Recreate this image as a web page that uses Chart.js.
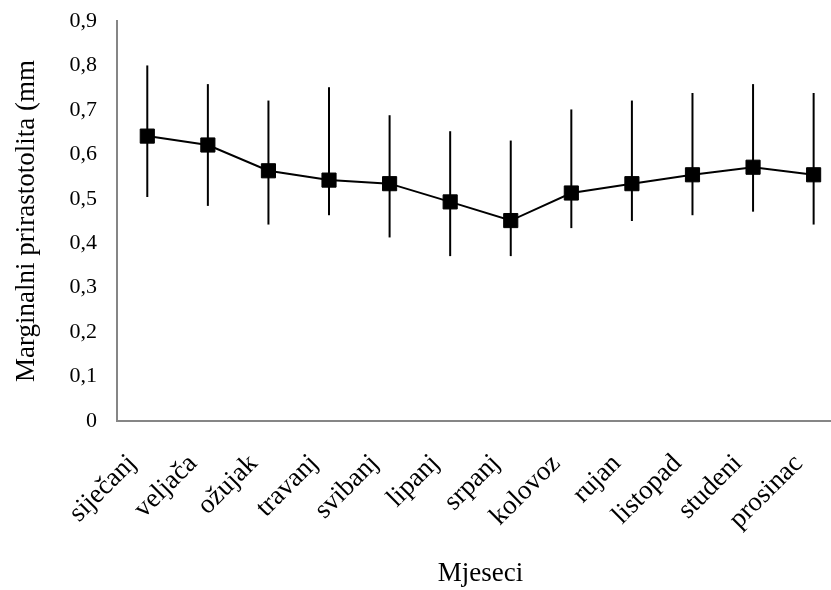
<!DOCTYPE html>
<html><head><meta charset="utf-8">
<script src="https://cdn.jsdelivr.net/npm/chart.js@4"></script>
<style>
html,body{margin:0;padding:0;overflow:hidden;background:#fff}
#wrap{width:856px;height:590px;position:relative}
</style>
</head><body>
<div id="wrap"><canvas id="c"></canvas></div>
<script>
const months = ['siječanj','veljača','ožujak','travanj','svibanj','lipanj','srpanj','kolovoz','rujan','listopad','studeni','prosinac'];
const means = [0.641,0.621,0.563,0.542,0.534,0.493,0.451,0.513,0.534,0.554,0.571,0.554];
const upper = [0.800,0.758,0.721,0.751,0.688,0.652,0.631,0.701,0.721,0.738,0.758,0.738];
const lower = [0.504,0.484,0.442,0.463,0.413,0.371,0.371,0.434,0.450,0.463,0.471,0.442];
const yMin = 0, yMax = 0.9, yStep = 0.1;
const yTitle = 'Marginalni prirastotolita (mm';
const xTitle = 'Mjeseci';

const errorBars = {
  id: 'errorBars',
  afterDatasetsDraw(chart) {
    const ctx = chart.ctx, xs = chart.scales.x, ys = chart.scales.y;
    ctx.save();
    ctx.strokeStyle = '#000';
    ctx.lineWidth = 2;
    for (let i = 0; i < months.length; i++) {
      const x = xs.getPixelForValue(i);
      ctx.beginPath();
      ctx.moveTo(x, ys.getPixelForValue(upper[i]));
      ctx.lineTo(x, ys.getPixelForValue(lower[i]));
      ctx.stroke();
    }
    ctx.restore();
  }
};

new Chart(document.getElementById('c'), {
  type: 'line',
  data: {
    labels: months,
    datasets: [{
      data: means,
      borderColor: '#000',
      borderWidth: 2,
      backgroundColor: '#000',
      pointStyle: 'rect',
      pointRadius: 10,
      pointBorderWidth: 1,
      pointBackgroundColor: '#000',
      pointBorderColor: '#000',
      tension: 0,
      fill: false
    }]
  },
  plugins: [errorBars],
  options: {
    responsive: true,
    maintainAspectRatio: false,
    animation: false,
    layout: { padding: { top: 21, right: 1, bottom: 0, left: 0 } },
    plugins: { legend: { display: false }, tooltip: { enabled: false } },
    scales: {
      x: {
        offset: true,
        grid: { display: false },
        border: { display: true, color: '#868686', width: 2 },
        ticks: {
          autoSkip: false, maxRotation: 45, minRotation: 45,
          padding: 19, labelOffset: -15, color: '#000',
          font: { family: '"Liberation Serif", "Times New Roman", serif', size: 27 }
        },
        title: {
          display: true, text: xTitle, color: '#000',
          font: { family: '"Liberation Serif", "Times New Roman", serif', size: 27 },
          padding: { top: 0, bottom: 0 }
        },
        afterFit(s) { s.height = 169; }
      },
      y: {
        min: yMin, max: yMax,
        grid: { display: false },
        border: { display: true, color: '#868686', width: 2 },
        ticks: {
          stepSize: yStep, padding: 12, color: '#000',
          font: { family: '"Liberation Serif", "Times New Roman", serif', size: 22 },
          callback: v => (Math.round(v * 10) / 10).toString().replace('.', ',')
        },
        title: {
          display: true, text: yTitle, color: '#000',
          font: { family: '"Liberation Serif", "Times New Roman", serif', size: 27 },
          padding: { top: 11, bottom: 0 }
        },
        afterFit(s) { s.width = 117; s.paddingTop = 0; s.paddingBottom = 0; }
      }
    }
  }
});
</script>
</body></html>
